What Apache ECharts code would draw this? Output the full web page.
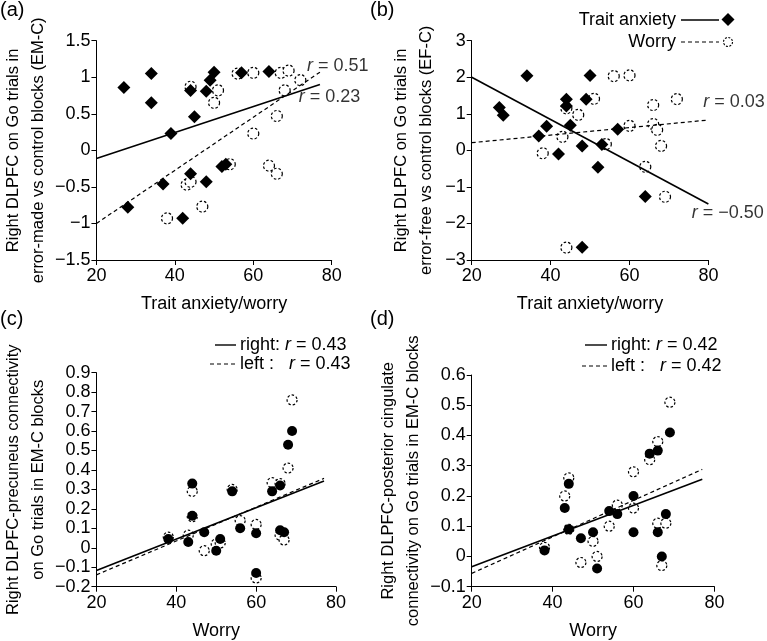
<!DOCTYPE html>
<html>
<head>
<meta charset="utf-8">
<script src="https://cdn.jsdelivr.net/npm/echarts@6/dist/echarts.min.js"></script>
<style>
  html, body { margin: 0; padding: 0; background: #fff; }
  #chart { width: 767px; height: 641px; }
</style>
</head>
<body>
<div id="chart"></div>
<script>
// panel (a): EM-C, trait anxiety (diamonds) and worry (dashed circles)
const aTrait = [[27,0.86],[34,1.05],[34,0.65],[39,0.23],[44,0.82],[45,0.46],[48,0.81],[49,0.96],[50,1.07],
  [37,-0.46],[28,-0.78],[44,-0.32],[48,-0.43],[42,-0.93],[52,-0.22],[53,-0.19],[57,1.06],[64,1.08]];
const aWorry = [[44,0.87],[51,0.82],[50,0.65],[56,1.05],[60,1.06],[67,1.06],[69,1.09],[72,0.96],[68,0.82],
  [66,0.47],[60,0.23],[64,-0.21],[66,-0.32],[54,-0.19],[43,-0.47],[44,-0.43],[47,-0.77],[38,-0.93]];
const aTraitFit = [[20,-0.11],[77,0.90]];
const aWorryFit = [[20,-1.0],[77,1.07]];

// panel (b): EF-C
const bTrait = [[27,1.17],[28,0.96],[34,2.04],[37,0.39],[39,0.66],[42,-0.1],[44,1.40],[44,1.21],[45,0.69],
  [48,0.12],[49,1.40],[50,2.05],[52,-0.46],[53,0.16],[57,0.58],[64,-1.26],[48,-2.65]];
const bWorry = [[56,2.03],[60,2.05],[51,1.41],[44,1.15],[47,0.97],[43,0.37],[38,-0.08],[54,0.17],[60,0.67],
  [66,1.24],[72,1.40],[66,0.72],[67,0.56],[68,0.12],[64,-0.45],[69,-1.27],[44,-2.66]];
const bTraitFit = [[20,2.0],[80,-1.47]];
const bWorryFit = [[20,0.21],[80,0.83]];

// panel (c): precuneus connectivity, right (filled) and left (dashed)
const cRight = [[38,0.045],[43,0.03],[44,0.33],[44,0.165],[47,0.08],[50,-0.015],[51,0.045],[54,0.29],[56,0.10],
  [60,0.075],[60,-0.13],[64,0.29],[66,0.32],[66,0.09],[67,0.08],[68,0.53],[69,0.60]];
const cLeft = [[38,0.055],[43,0.065],[44,0.29],[44,0.16],[47,-0.015],[50,0.02],[51,0.025],[54,0.30],[56,0.14],
  [60,0.12],[60,-0.155],[64,0.335],[66,0.33],[66,0.065],[67,0.04],[68,0.41],[69,0.76]];
const cRightFit = [[20,-0.117],[77,0.343]];
const cLeftFit = [[20,-0.139],[77,0.357]];

// panel (d): posterior cingulate connectivity
const dRight = [[38,0.02],[43,0.16],[44,0.24],[44,0.09],[47,0.06],[50,0.08],[51,-0.04],[54,0.15],[56,0.14],
  [60,0.2],[60,0.08],[64,0.34],[66,0.35],[66,0.08],[67,0.0],[68,0.14],[69,0.41]];
const dLeft = [[38,0.03],[43,0.20],[44,0.26],[44,0.09],[47,-0.02],[50,0.05],[51,0.0],[54,0.10],[56,0.17],
  [60,0.28],[60,0.16],[64,0.32],[66,0.38],[66,0.11],[67,-0.03],[68,0.11],[69,0.51]];
const dRightFit = [[20,-0.034],[77,0.255]];
const dLeftFit = [[20,-0.056],[77,0.288]];

// r labels: [x, y, text] in data units (left edge of label)
const aLabels = [[73.7,1.16,'0.51'],[71.6,0.73,'0.23']];
const bLabels = [[78.7,1.33,'0.03'],[75.8,-1.72,'\u22120.50']];

const FONT = '"Liberation Sans", Arial, sans-serif';
const chart = echarts.init(document.getElementById('chart'));

function fmt(v) {
  return String(parseFloat(v.toFixed(2))).replace('-', '\u2212');
}

function xAx(i, name) {
  return {
    gridIndex: i, type: 'value', min: 20, max: 80, interval: 20,
    name: name, nameLocation: 'middle', nameGap: 35,
    nameTextStyle: { fontSize: 18, color: '#000', fontFamily: FONT },
    axisLine: { onZero: false, lineStyle: { color: '#000', width: 1 } },
    axisTick: { show: true, length: 5, lineStyle: { color: '#000' } },
    axisLabel: { fontSize: 18, color: '#000', fontFamily: FONT, margin: 7, formatter: fmt },
    splitLine: { show: false }
  };
}

function yAx(i, name, min, max, step) {
  return {
    gridIndex: i, type: 'value', min: min, max: max, interval: step,
    name: name, nameLocation: 'middle', nameGap: 33,
    nameTextStyle: { fontSize: 16.5, lineHeight: 25, color: '#000', fontFamily: FONT },
    axisLine: { show: true, onZero: false, lineStyle: { color: '#000', width: 1 } },
    axisTick: { show: true, length: 5, lineStyle: { color: '#000' } },
    axisLabel: { fontSize: 18, color: '#000', fontFamily: FONT, margin: 6, formatter: fmt },
    splitLine: { show: false }
  };
}

function openDots(i, data, size) {
  return {
    type: 'scatter', xAxisIndex: i, yAxisIndex: i, data: data, symbol: 'circle', symbolSize: size, z: 2,
    itemStyle: { color: '#fff', opacity: 1, borderColor: '#000', borderWidth: 1.2, borderType: [2.5, 2] }
  };
}
function filled(i, data, symbol, size) {
  return {
    type: 'scatter', xAxisIndex: i, yAxisIndex: i, data: data, symbol: symbol, symbolSize: size, z: 3,
    itemStyle: { color: '#000', opacity: 1 }
  };
}
function fit(i, data, dashed) {
  return {
    type: 'line', xAxisIndex: i, yAxisIndex: i, data: data, symbol: 'none', z: 4,
    lineStyle: { color: '#000', width: dashed ? 1.2 : 1.6, type: dashed ? [4, 3] : 'solid' }
  };
}
function rLabels(i, data) {
  return {
    type: 'scatter', xAxisIndex: i, yAxisIndex: i, symbolSize: 0, z: 5,
    data: data.map(d => ({ value: [d[0], d[1]], name: d[2] })),
    label: {
      show: true, position: 'right', distance: 0, color: '#000',
      formatter: p => '{i|r} = ' + p.name,
      fontSize: 18, fontFamily: FONT,
      rich: { i: { fontStyle: 'italic', fontSize: 18, fontFamily: FONT, color: '#000' } }
    }
  };
}

const txt = (x, y, text, align, extra) => ({
  type: 'text', x: x, y: y, z: 10,
  style: Object.assign({ text: text, fill: '#000', font: '18px ' + FONT, textAlign: align || 'left', textVerticalAlign: 'middle' }, extra || {})
});
const seg = (x1, x2, y, dashed) => ({
  type: 'line', z: 10,
  shape: { x1: x1, y1: y, x2: x2, y2: y },
  style: { stroke: '#000', lineWidth: dashed ? 1.2 : 1.4, lineDash: dashed ? [4, 3] : null }
});
const richR = { rich: { i: { fontStyle: 'italic', fontSize: 18, fontFamily: FONT } } };

const option = {
  animation: false,
  backgroundColor: '#fff',
  textStyle: { fontFamily: FONT },
  grid: [
    { left: 95, top: 40.7, width: 236.7, height: 219.3 },
    { left: 471.7, top: 40.7, width: 236.7, height: 219.3 },
    { left: 95, top: 372.7, width: 241, height: 214 },
    { left: 471.7, top: 375, width: 242.7, height: 211.7 }
  ],
  xAxis: [
    xAx(0, 'Trait anxiety/worry'), xAx(1, 'Trait anxiety/worry'), xAx(2, 'Worry'), xAx(3, 'Worry')
  ],
  yAxis: [
    yAx(0, 'Right DLPFC on Go trials in\nerror-made vs control blocks (EM-C)', -1.5, 1.5, 0.5),
    yAx(1, 'Right DLPFC on Go trials in\nerror-free vs control blocks (EF-C)', -3, 3, 1),
    yAx(2, 'Right DLPFC-precuneus connectivity\non Go trials in EM-C blocks', -0.2, 0.9, 0.1),
    yAx(3, 'Right DLPFC-posterior cingulate\nconnectivity on Go trials in EM-C blocks', -0.1, 0.6, 0.1)
  ],
  series: [
    openDots(0, aWorry, 11), filled(0, aTrait, 'diamond', 13), fit(0, aTraitFit, false), fit(0, aWorryFit, true), rLabels(0, aLabels),
    openDots(1, bWorry, 11), filled(1, bTrait, 'diamond', 13), fit(1, bTraitFit, false), fit(1, bWorryFit, true), rLabels(1, bLabels),
    openDots(2, cLeft, 10), filled(2, cRight, 'circle', 10), fit(2, cRightFit, false), fit(2, cLeftFit, true),
    openDots(3, dLeft, 10), filled(3, dRight, 'circle', 10), fit(3, dRightFit, false), fit(3, dLeftFit, true)
  ],
  graphic: [
    // panel letters
    txt(0, 10, '(a)', 'left', { font: '20px ' + FONT }),
    txt(370, 10, '(b)', 'left', { font: '20px ' + FONT }),
    txt(0, 319, '(c)', 'left', { font: '20px ' + FONT }),
    txt(370, 319, '(d)', 'left', { font: '20px ' + FONT }),
    // legend (b)
    txt(676, 20, 'Trait anxiety', 'right'),
    seg(681, 719, 20, false),
    { type: 'polygon', z: 10, shape: { points: [[728, 13], [734.5, 19.5], [728, 26], [721.5, 19.5]] }, style: { fill: '#000' } },
    txt(676, 42, 'Worry', 'right'),
    seg(681, 719, 42, true),
    { type: 'circle', z: 10, shape: { cx: 728, cy: 42, r: 4.5 }, style: { fill: '#fff', stroke: '#000', lineWidth: 1.1, lineDash: [2, 1.5] } },
    // legend (c)
    seg(215, 236, 345, false),
    txt(240, 345, 'right: {i|r} = 0.43', 'left', richR),
    seg(210, 236, 364, true),
    txt(240, 364, 'left :   {i|r} = 0.43', 'left', richR),
    // legend (d)
    seg(585, 607, 345, false),
    txt(611, 345, 'right: {i|r} = 0.42', 'left', richR),
    seg(582, 607, 366, true),
    txt(611, 366, 'left :   {i|r} = 0.42', 'left', richR)
  ]
};

chart.setOption(option);
</script>
</body>
</html>
